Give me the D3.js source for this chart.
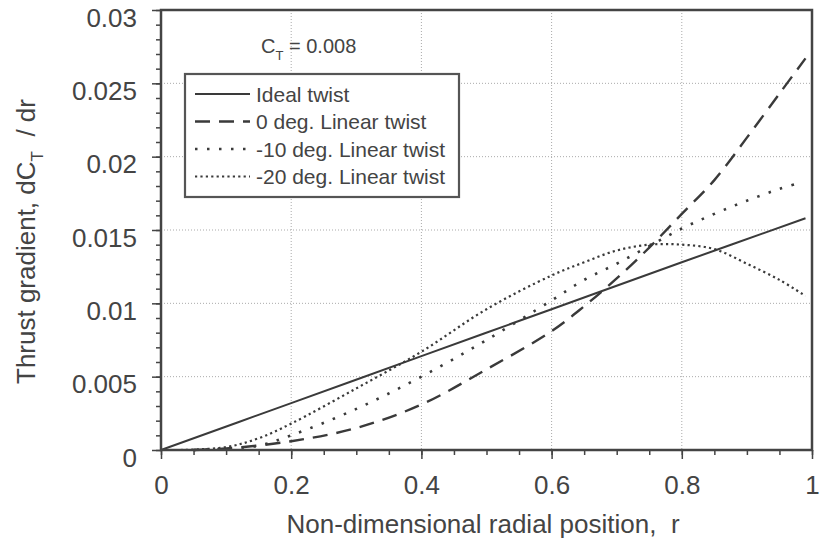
<!DOCTYPE html>
<html>
<head>
<meta charset="utf-8">
<script src="https://cdn.jsdelivr.net/npm/d3@7.9.0/dist/d3.min.js"></script>
<style>
  body { margin: 0; background: #fff; }
  svg text { font-family: "Liberation Sans", Arial, sans-serif; fill: #444; white-space: pre; }
</style>
</head>
<body>
<svg id="chart" width="820" height="544"></svg>
<script>
// ----- data -----
const rIdeal = [0, 0.2, 0.4, 0.6, 0.8, 0.99];
const ideal  = [0, 0.0032, 0.0064, 0.0096, 0.0128, 0.0158];

const rZero = [0.05, 0.1, 0.2, 0.3, 0.4, 0.5, 0.6, 0.65, 0.7, 0.75, 0.8, 0.85, 0.9, 0.95, 0.99];
const zero  = [0, 0.0001, 0.0006, 0.0015, 0.0031, 0.0055, 0.0081, 0.0098, 0.0117, 0.0138, 0.0161, 0.0184, 0.0213, 0.0243, 0.0267];

const rTen = [0.05, 0.1, 0.15, 0.2, 0.3, 0.4, 0.5, 0.6, 0.65, 0.7, 0.75, 0.8, 0.85, 0.9, 0.95, 0.98];
const ten  = [0, 0.0001, 0.0003, 0.001, 0.0028, 0.005, 0.0075, 0.0102, 0.0116, 0.0127, 0.0139, 0.0151, 0.0161, 0.017, 0.0178, 0.0182];

const rTwenty = [0.03, 0.1, 0.15, 0.2, 0.3, 0.4, 0.5, 0.6, 0.65, 0.7, 0.75, 0.8, 0.85, 0.9, 0.95, 0.99];
const twenty  = [0, 0.0002, 0.0008, 0.0018, 0.0042, 0.0067, 0.0096, 0.0119, 0.0128, 0.0136, 0.014, 0.014, 0.0137, 0.0127, 0.0116, 0.0105];

const legendLabels = ["Ideal twist", "0 deg. Linear twist", "-10 deg. Linear twist", "-20 deg. Linear twist"];
const xTicks = [0, 0.2, 0.4, 0.6, 0.8, 1];
const yTicks = [0, 0.005, 0.01, 0.015, 0.02, 0.025, 0.03];

// ----- layout -----
const svg = d3.select("#chart");
const L = 161, R = 812, T = 10, B = 450;

const x = d3.scaleLinear().domain([0, 1]).range([L, R]);
const y = d3.scaleLinear().domain([0, 0.03]).range([B, T]);

// grid
const grid = svg.append("g").attr("stroke", "#aaa").attr("stroke-width", 1).attr("stroke-dasharray", "1,2");
grid.selectAll(".gx").data(xTicks.slice(1, -1)).enter().append("line")
  .attr("x1", d => x(d)).attr("x2", d => x(d)).attr("y1", T).attr("y2", B);
grid.selectAll(".gy").data(yTicks.slice(1, -1)).enter().append("line")
  .attr("y1", d => y(d)).attr("y2", d => y(d)).attr("x1", L).attr("x2", R);

// axes with minor ticks
const xMinor = d3.range(0, 1.0001, 0.05);
const yMinor = d3.range(0, 0.03001, 0.001);

const xAxisMinor = d3.axisBottom(x).tickValues(xMinor).tickSize(5).tickFormat("");
const xAxis = d3.axisBottom(x).tickValues(xTicks).tickSize(9).tickPadding(17).tickFormat(d3.format("~g"));
const yAxisMinor = d3.axisLeft(y).tickValues(yMinor).tickSize(5).tickFormat("");
const yAxis = d3.axisLeft(y).tickValues(yTicks).tickSize(9).tickPadding(15).tickFormat(d3.format("~g"));

function styleAxis(g) {
  g.select(".domain").remove();
  g.selectAll("line").attr("stroke", "#444").attr("stroke-width", 1.5);
  g.selectAll("text").attr("font-size", 26).attr("fill", "#444")
    .attr("font-family", "'Liberation Sans', Arial, sans-serif");
}
svg.append("g").attr("transform", `translate(0,${B})`).call(xAxisMinor).call(styleAxis);
svg.append("g").attr("transform", `translate(0,${B})`).call(xAxis).call(styleAxis)
  .selectAll("text").attr("dy", "0.71em");
svg.append("g").attr("transform", `translate(${L},0)`).call(yAxisMinor).call(styleAxis);
svg.append("g").attr("transform", `translate(${L},0)`).call(yAxis).call(styleAxis)
  .selectAll("text").attr("dy", "0.62em");

// legend box (white, hides grid)
svg.append("rect").attr("x", 185).attr("y", 74).attr("width", 274).attr("height", 123)
  .attr("fill", "#fff").attr("stroke", "#555").attr("stroke-width", 2.2);

// curves
const styles = [
  { w: 2, dash: null },
  { w: 2.4, dash: "15,9" },
  { w: 2.6, dash: "2.5,9.5" },
  { w: 2.2, dash: "2.2,3.2" }
];
const series = [
  d3.zip(rIdeal, ideal),
  d3.zip(rZero, zero),
  d3.zip(rTen, ten),
  d3.zip(rTwenty, twenty)
];
const line = d3.line().x(d => x(d[0])).y(d => y(d[1])).curve(d3.curveCatmullRom.alpha(0.5));

svg.append("g").selectAll("path").data(series).enter().append("path")
  .attr("d", line)
  .attr("fill", "none")
  .attr("stroke", "#3a3a3a")
  .attr("stroke-width", (d, i) => styles[i].w)
  .attr("stroke-dasharray", (d, i) => styles[i].dash);

// frame
svg.append("rect").attr("x", L).attr("y", T).attr("width", R - L).attr("height", B - T)
  .attr("fill", "none").attr("stroke", "#444").attr("stroke-width", 2.5);

// legend entries
const lg = svg.append("g").selectAll("g").data(legendLabels).enter().append("g")
  .attr("transform", (d, i) => `translate(0,${94 + i * 27.5})`);
lg.append("line").attr("x1", 195).attr("x2", 250).attr("y1", 0).attr("y2", 0)
  .attr("stroke", "#3a3a3a")
  .attr("stroke-width", (d, i) => styles[i].w)
  .attr("stroke-dasharray", (d, i) => styles[i].dash);
lg.append("text").attr("x", 256).attr("y", 0).attr("dy", "0.36em")
  .attr("font-size", 21).text(d => d);

// C_T annotation
const ct = svg.append("text").attr("x", 261).attr("y", 53).attr("font-size", 20);
ct.append("tspan").text("C");
ct.append("tspan").attr("font-size", 13).attr("dy", 7).text("T");
ct.append("tspan").attr("dy", -7).text(" = 0.008");

// axis titles
svg.append("text").attr("x", 483).attr("y", 533).attr("text-anchor", "middle")
  .attr("font-size", 26).text("Non-dimensional radial position,  r");

const yt = svg.append("text").attr("transform", "translate(35,384) rotate(-90)")
  .attr("text-anchor", "start").attr("font-size", 26);
yt.append("tspan").text("Thrust gradient, dC");
yt.append("tspan").attr("font-size", 17).attr("dy", 8).text("T");
yt.append("tspan").attr("dy", -8).text("  / dr");
</script>
</body>
</html>
